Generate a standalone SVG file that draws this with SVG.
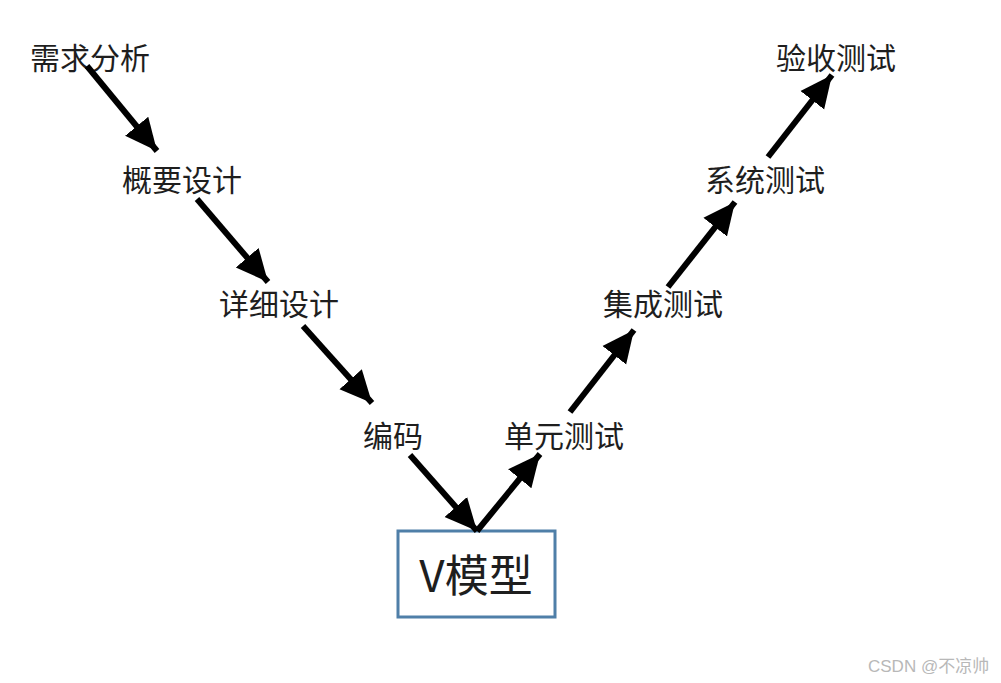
<svg xmlns="http://www.w3.org/2000/svg" width="1001" height="683" viewBox="0 0 1001 683">
<style>
.lbl{font-family:"Noto Sans CJK SC","Noto Sans",sans-serif;font-size:30px;fill:#1e1e1e;text-anchor:middle;dominant-baseline:central}
.big{font-family:"Noto Sans CJK SC","Noto Sans",sans-serif;font-size:44px;fill:#1e1e1e;text-anchor:middle;dominant-baseline:central}
.conn line{stroke:#000;stroke-width:6;marker-end:url(#ah)}
.wm{font-family:"Liberation Sans","Noto Sans CJK SC",sans-serif;font-size:17px;fill:#b8b8b8}
</style>
<defs>
<marker id="ah" markerUnits="userSpaceOnUse" markerWidth="34" markerHeight="32" refX="32" refY="16" orient="auto">
<path d="M0,1 L32,16 L0,31 Z" fill="#000"/>
</marker>
</defs>
<rect width="1001" height="683" fill="#fff"/>
<g id="n1"><text class="lbl" x="90" y="56">需求分析</text></g>
<g id="n2"><text class="lbl" x="182" y="178">概要设计</text></g>
<g id="n3"><text class="lbl" x="279" y="302">详细设计</text></g>
<g id="n4"><text class="lbl" x="393" y="434">编码</text></g>
<g id="n5"><rect x="398" y="531" width="157" height="86" fill="#fff" stroke="#4f7fa8" stroke-width="3"/><text class="big" x="476" y="573">V模型</text></g>
<g id="n6"><text class="lbl" x="564" y="434">单元测试</text></g>
<g id="n7"><text class="lbl" x="663" y="302">集成测试</text></g>
<g id="n8"><text class="lbl" x="765" y="178">系统测试</text></g>
<g id="n9"><text class="lbl" x="836" y="56">验收测试</text></g>
<g id="connectors" class="conn">
<line x1="87" y1="66" x2="157" y2="151"/>
<line x1="197" y1="199" x2="268" y2="282"/>
<line x1="303" y1="326" x2="372" y2="403"/>
<line x1="410" y1="455" x2="477" y2="531"/>
<line x1="477" y1="531" x2="540" y2="454"/>
<line x1="570" y1="412" x2="634" y2="330"/>
<line x1="668" y1="287" x2="735" y2="202"/>
<line x1="768" y1="157" x2="832" y2="75"/>
</g>
<text class="wm" x="868" y="672">CSDN @不凉帅</text>
</svg>
